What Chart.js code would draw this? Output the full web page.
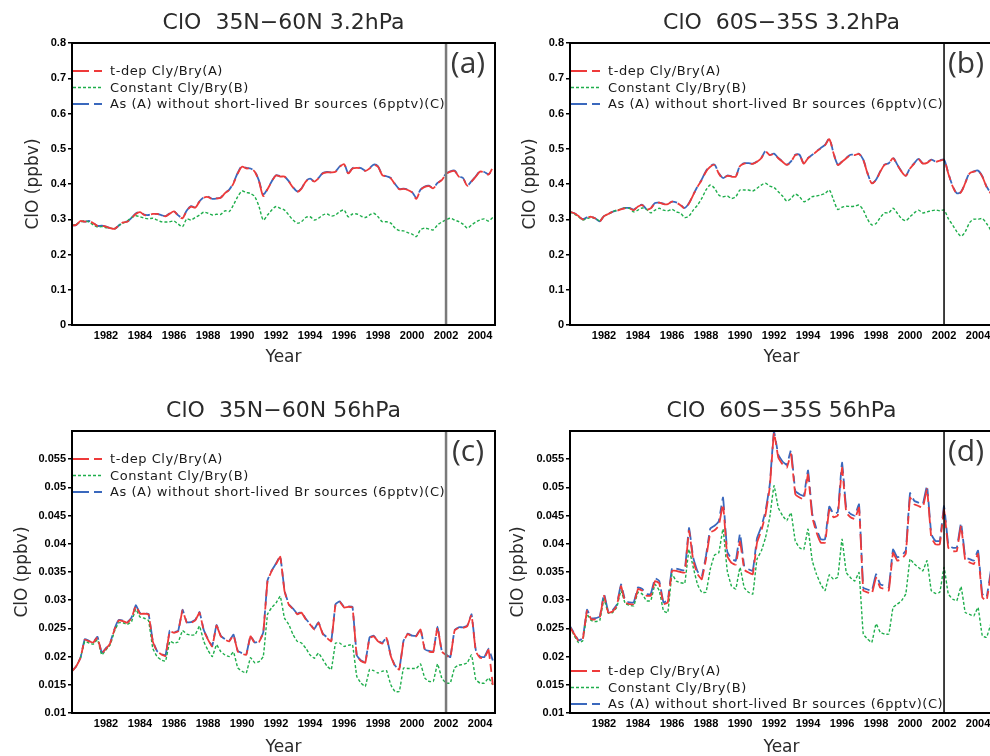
<!DOCTYPE html>
<html>
<head>
<meta charset="utf-8">
<script src="https://cdn.jsdelivr.net/npm/chart.js@4.4.0/dist/chart.umd.min.js"></script>
<style>
html, body { margin: 0; padding: 0; background: #fff; width: 990px; height: 756px; overflow: hidden; position: relative; }
.panel { position: absolute; }
</style>
</head>
<body>
<canvas class="panel" id="pa" width="497" height="378" style="left:0;top:0"></canvas>
<canvas class="panel" id="pb" width="500" height="378" style="left:495px;top:0"></canvas>
<canvas class="panel" id="pc" width="497" height="390" style="left:0;top:378px"></canvas>
<canvas class="panel" id="pd" width="500" height="390" style="left:495px;top:378px"></canvas>
<script>
// quarterly time axis, 1980.0 .. 2004.75
const qYears = Array.from({length: 100}, (_, i) => 1980 + i / 4);
const xTickYears = [1982, 1984, 1986, 1988, 1990, 1992, 1994, 1996, 1998, 2000, 2002, 2004];
const yTicksUpper = [0, 0.1, 0.2, 0.3, 0.4, 0.5, 0.6, 0.7, 0.8];
const yLabelsUpper = ['0', '0.1', '0.2', '0.3', '0.4', '0.5', '0.6', '0.7', '0.8'];
const yTicksLower = [0.01, 0.015, 0.02, 0.025, 0.03, 0.035, 0.04, 0.045, 0.05, 0.055];
const yLabelsLower = ['0.01', '0.015', '0.02', '0.025', '0.03', '0.035', '0.04', '0.045', '0.05', '0.055'];
const seriesNames = ['t-dep Cly/Bry(A)', 'Constant Cly/Bry(B)', 'As (A) without short-lived Br sources (6pptv)(C)'];
const markYear = 2002;

// (a) ClO 35N-60N 3.2hPa
const a_A = [
  0.282, 0.284, 0.295, 0.293,  0.295, 0.289, 0.281, 0.282,  0.279, 0.275, 0.273, 0.282,
  0.291, 0.293, 0.303, 0.315,  0.320, 0.312, 0.312, 0.315,  0.315, 0.312, 0.308, 0.316,
  0.322, 0.310, 0.303, 0.324,  0.336, 0.333, 0.350, 0.361,  0.363, 0.357, 0.359, 0.361,
  0.374, 0.383, 0.402, 0.430,  0.449, 0.444, 0.444, 0.435,  0.407, 0.366, 0.385, 0.407,
  0.424, 0.421, 0.421, 0.407,  0.390, 0.378, 0.387, 0.407,  0.414, 0.407, 0.416, 0.430,
  0.433, 0.433, 0.435, 0.449,  0.456, 0.430, 0.444, 0.446,  0.444, 0.437, 0.444, 0.454,
  0.449, 0.425, 0.421, 0.416,  0.399, 0.385, 0.386, 0.383,  0.376, 0.358, 0.383, 0.392,
  0.394, 0.388, 0.402, 0.411,  0.428, 0.435, 0.437, 0.421,  0.416, 0.395, 0.407, 0.421,
  0.435, 0.433, 0.427, 0.447
];
const a_B = [
  0.282, 0.286, 0.292, 0.295,  0.292, 0.284, 0.278, 0.279,  0.276, 0.275, 0.273, 0.282,
  0.289, 0.295, 0.305, 0.310,  0.307, 0.303, 0.301, 0.303,  0.298, 0.293, 0.292, 0.293,
  0.295, 0.286, 0.279, 0.301,  0.298, 0.305, 0.312, 0.320,  0.317, 0.312, 0.314, 0.314,
  0.324, 0.322, 0.341, 0.364,  0.380, 0.376, 0.373, 0.364,  0.336, 0.298, 0.312, 0.326,
  0.336, 0.331, 0.326, 0.312,  0.298, 0.289, 0.293, 0.305,  0.307, 0.298, 0.303, 0.312,
  0.315, 0.309, 0.312, 0.322,  0.326, 0.307, 0.315, 0.315,  0.309, 0.305, 0.312, 0.317,
  0.307, 0.293, 0.293, 0.289,  0.275, 0.268, 0.267, 0.262,  0.258, 0.251, 0.270, 0.275,
  0.272, 0.270, 0.284, 0.292,  0.298, 0.303, 0.298, 0.293,  0.286, 0.275, 0.284, 0.292,
  0.298, 0.301, 0.295, 0.305
];
const a_C = [
  0.282, 0.284, 0.295, 0.293,  0.295, 0.289, 0.281, 0.282,  0.279, 0.275, 0.273, 0.282,
  0.291, 0.294, 0.304, 0.316,  0.321, 0.313, 0.312, 0.315,  0.315, 0.312, 0.309, 0.317,
  0.322, 0.311, 0.304, 0.325,  0.337, 0.334, 0.351, 0.362,  0.364, 0.358, 0.359, 0.362,
  0.375, 0.384, 0.404, 0.432,  0.451, 0.446, 0.444, 0.436,  0.409, 0.371, 0.386, 0.408,
  0.425, 0.422, 0.421, 0.408,  0.391, 0.379, 0.388, 0.408,  0.415, 0.408, 0.417, 0.431,
  0.434, 0.433, 0.436, 0.450,  0.457, 0.431, 0.445, 0.447,  0.445, 0.438, 0.445, 0.455,
  0.450, 0.426, 0.422, 0.417,  0.400, 0.386, 0.387, 0.384,  0.377, 0.362, 0.384, 0.393,
  0.395, 0.389, 0.403, 0.412,  0.429, 0.436, 0.438, 0.422,  0.417, 0.396, 0.408, 0.422,
  0.436, 0.434, 0.428, 0.439
];

// (b) ClO 60S-35S 3.2hPa
const b_A = [
  0.321, 0.317, 0.309, 0.300,  0.305, 0.307, 0.302, 0.294,  0.309, 0.315, 0.321, 0.324,
  0.328, 0.331, 0.331, 0.326,  0.336, 0.340, 0.328, 0.331,  0.345, 0.347, 0.343, 0.343,
  0.350, 0.347, 0.340, 0.331,  0.345, 0.369, 0.392, 0.411,  0.435, 0.449, 0.454, 0.430,
  0.416, 0.423, 0.421, 0.421,  0.451, 0.458, 0.458, 0.457,  0.463, 0.473, 0.492, 0.482,
  0.485, 0.473, 0.463, 0.454,  0.463, 0.482, 0.482, 0.458,  0.473, 0.482, 0.492, 0.501,
  0.510, 0.527, 0.487, 0.454,  0.463, 0.473, 0.482, 0.482,  0.485, 0.468, 0.430, 0.402,
  0.411, 0.435, 0.454, 0.458,  0.473, 0.454, 0.435, 0.423,  0.444, 0.458, 0.470, 0.458,
  0.460, 0.468, 0.463, 0.466,  0.468, 0.430, 0.394, 0.373,  0.377, 0.403, 0.430, 0.435,
  0.437, 0.421, 0.392, 0.373
];
const b_B = [
  0.321, 0.315, 0.307, 0.298,  0.302, 0.305, 0.302, 0.296,  0.309, 0.315, 0.321, 0.326,
  0.329, 0.332, 0.331, 0.321,  0.326, 0.332, 0.328, 0.318,  0.326, 0.331, 0.326, 0.324,
  0.328, 0.321, 0.317, 0.305,  0.309, 0.326, 0.340, 0.359,  0.383, 0.397, 0.388, 0.369,
  0.364, 0.366, 0.359, 0.364,  0.383, 0.383, 0.383, 0.380,  0.388, 0.397, 0.402, 0.394,
  0.390, 0.378, 0.366, 0.352,  0.359, 0.371, 0.364, 0.350,  0.355, 0.364, 0.366, 0.369,
  0.373, 0.383, 0.355, 0.328,  0.334, 0.337, 0.336, 0.337,  0.340, 0.326, 0.300, 0.284,
  0.288, 0.305, 0.318, 0.318,  0.331, 0.317, 0.302, 0.296,  0.307, 0.318, 0.326, 0.318,
  0.321, 0.324, 0.326, 0.324,  0.326, 0.302, 0.284, 0.265,  0.252, 0.265, 0.290, 0.300,
  0.300, 0.302, 0.288, 0.269
];
const b_C = [
  0.321, 0.317, 0.309, 0.300,  0.305, 0.307, 0.302, 0.294,  0.309, 0.315, 0.321, 0.325,
  0.329, 0.332, 0.332, 0.327,  0.337, 0.341, 0.329, 0.332,  0.346, 0.347, 0.344, 0.344,
  0.350, 0.348, 0.341, 0.332,  0.346, 0.370, 0.393, 0.413,  0.437, 0.451, 0.455, 0.431,
  0.417, 0.424, 0.422, 0.422,  0.452, 0.459, 0.459, 0.458,  0.464, 0.474, 0.493, 0.483,
  0.486, 0.474, 0.464, 0.455,  0.464, 0.483, 0.483, 0.459,  0.474, 0.483, 0.493, 0.502,
  0.511, 0.528, 0.488, 0.455,  0.464, 0.474, 0.483, 0.483,  0.486, 0.469, 0.431, 0.403,
  0.412, 0.436, 0.455, 0.459,  0.474, 0.455, 0.436, 0.424,  0.445, 0.459, 0.471, 0.459,
  0.461, 0.469, 0.464, 0.467,  0.469, 0.431, 0.395, 0.374,  0.378, 0.404, 0.431, 0.436,
  0.438, 0.422, 0.393, 0.374
];

// (c) ClO 35N-60N 56hPa
const c_A = [
  0.0174, 0.0183, 0.0198, 0.0230,  0.0227, 0.0225, 0.0234, 0.0206,  0.0214, 0.0224, 0.0248, 0.0264,
  0.0263, 0.0260, 0.0268, 0.0290,  0.0276, 0.0276, 0.0275, 0.0227,  0.0209, 0.0204, 0.0201, 0.0245,
  0.0242, 0.0245, 0.0282, 0.0260,  0.0260, 0.0264, 0.0278, 0.0246,  0.0230, 0.0218, 0.0255, 0.0236,
  0.0230, 0.0227, 0.0238, 0.0209,  0.0205, 0.0203, 0.0236, 0.0224,  0.0226, 0.0242, 0.0334, 0.0352,
  0.0364, 0.0377, 0.0316, 0.0292,  0.0284, 0.0275, 0.0278, 0.0266,  0.0257, 0.0248, 0.0260, 0.0240,
  0.0233, 0.0227, 0.0292, 0.0297,  0.0287, 0.0288, 0.0287, 0.0201,  0.0192, 0.0189, 0.0233, 0.0236,
  0.0227, 0.0223, 0.0233, 0.0201,  0.0183, 0.0177, 0.0227, 0.0240,  0.0236, 0.0236, 0.0248, 0.0212,
  0.0209, 0.0208, 0.0252, 0.0209,  0.0203, 0.0198, 0.0246, 0.0251,  0.0251, 0.0254, 0.0274, 0.0209,
  0.0198, 0.0197, 0.0212, 0.0150
];
const c_B = [
  0.0174, 0.0183, 0.0198, 0.0227,  0.0224, 0.0222, 0.0230, 0.0203,  0.0212, 0.0221, 0.0245, 0.0260,
  0.0260, 0.0257, 0.0262, 0.0284,  0.0270, 0.0268, 0.0264, 0.0215,  0.0200, 0.0194, 0.0192, 0.0227,
  0.0224, 0.0226, 0.0246, 0.0240,  0.0238, 0.0239, 0.0254, 0.0227,  0.0211, 0.0200, 0.0221, 0.0209,
  0.0203, 0.0200, 0.0208, 0.0180,  0.0174, 0.0171, 0.0198, 0.0189,  0.0191, 0.0200, 0.0275, 0.0287,
  0.0295, 0.0307, 0.0268, 0.0257,  0.0239, 0.0227, 0.0224, 0.0215,  0.0203, 0.0197, 0.0206, 0.0195,
  0.0183, 0.0177, 0.0224, 0.0224,  0.0218, 0.0220, 0.0221, 0.0165,  0.0153, 0.0147, 0.0177, 0.0175,
  0.0171, 0.0174, 0.0175, 0.0150,  0.0138, 0.0138, 0.0180, 0.0179,  0.0179, 0.0179, 0.0187, 0.0162,
  0.0156, 0.0156, 0.0187, 0.0162,  0.0153, 0.0153, 0.0180, 0.0185,  0.0186, 0.0189, 0.0203, 0.0159,
  0.0153, 0.0153, 0.0162, 0.0150
];
const c_C = [
  0.0174, 0.0183, 0.0198, 0.0231,  0.0228, 0.0226, 0.0235, 0.0207,  0.0215, 0.0225, 0.0249, 0.0265,
  0.0264, 0.0261, 0.0269, 0.0291,  0.0277, 0.0277, 0.0276, 0.0228,  0.0210, 0.0205, 0.0202, 0.0246,
  0.0243, 0.0246, 0.0283, 0.0261,  0.0261, 0.0265, 0.0279, 0.0247,  0.0231, 0.0219, 0.0256, 0.0237,
  0.0231, 0.0228, 0.0239, 0.0210,  0.0206, 0.0204, 0.0237, 0.0225,  0.0227, 0.0243, 0.0335, 0.0353,
  0.0365, 0.0378, 0.0317, 0.0293,  0.0285, 0.0276, 0.0279, 0.0267,  0.0258, 0.0249, 0.0261, 0.0241,
  0.0234, 0.0228, 0.0293, 0.0298,  0.0288, 0.0289, 0.0288, 0.0202,  0.0193, 0.0190, 0.0234, 0.0237,
  0.0228, 0.0224, 0.0234, 0.0202,  0.0184, 0.0178, 0.0228, 0.0241,  0.0237, 0.0237, 0.0249, 0.0213,
  0.0210, 0.0209, 0.0253, 0.0210,  0.0204, 0.0199, 0.0247, 0.0252,  0.0252, 0.0255, 0.0275, 0.0212,
  0.0200, 0.0199, 0.0214, 0.0193
];

// (d) ClO 60S-35S 56hPa
const d_A = [
  0.0252, 0.0240, 0.0228, 0.0231,  0.0281, 0.0266, 0.0266, 0.0269,  0.0308, 0.0278, 0.0280, 0.0290,
  0.0325, 0.0296, 0.0293, 0.0293,  0.0320, 0.0317, 0.0308, 0.0308,  0.0334, 0.0330, 0.0293, 0.0296,
  0.0352, 0.0352, 0.0350, 0.0349,  0.0423, 0.0370, 0.0346, 0.0337,  0.0373, 0.0420, 0.0424, 0.0432,
  0.0470, 0.0378, 0.0366, 0.0363,  0.0404, 0.0354, 0.0349, 0.0346,  0.0402, 0.0423, 0.0452, 0.0500,
  0.0597, 0.0553, 0.0541, 0.0535,  0.0559, 0.0488, 0.0482, 0.0479,  0.0523, 0.0447, 0.0420, 0.0402,
  0.0402, 0.0460, 0.0447, 0.0450,  0.0535, 0.0455, 0.0447, 0.0444,  0.0464, 0.0317, 0.0314, 0.0311,
  0.0340, 0.0322, 0.0320, 0.0317,  0.0384, 0.0370, 0.0373, 0.0382,  0.0482, 0.0470, 0.0467, 0.0464,
  0.0497, 0.0411, 0.0399, 0.0399,  0.0461, 0.0393, 0.0387, 0.0387,  0.0432, 0.0370, 0.0367, 0.0364,
  0.0382, 0.0305, 0.0299, 0.0346
];
const d_B = [
  0.0252, 0.0237, 0.0225, 0.0228,  0.0275, 0.0264, 0.0262, 0.0264,  0.0302, 0.0277, 0.0278, 0.0287,
  0.0317, 0.0294, 0.0291, 0.0290,  0.0314, 0.0311, 0.0299, 0.0299,  0.0328, 0.0317, 0.0281, 0.0278,
  0.0346, 0.0334, 0.0331, 0.0330,  0.0390, 0.0358, 0.0328, 0.0314,  0.0314, 0.0355, 0.0380, 0.0384,
  0.0426, 0.0352, 0.0325, 0.0320,  0.0358, 0.0322, 0.0314, 0.0311,  0.0373, 0.0387, 0.0411, 0.0447,
  0.0503, 0.0464, 0.0450, 0.0441,  0.0455, 0.0405, 0.0393, 0.0390,  0.0426, 0.0370, 0.0346, 0.0328,
  0.0317, 0.0345, 0.0337, 0.0341,  0.0408, 0.0349, 0.0340, 0.0334,  0.0349, 0.0240, 0.0231, 0.0225,
  0.0258, 0.0243, 0.0240, 0.0240,  0.0287, 0.0293, 0.0299, 0.0311,  0.0373, 0.0364, 0.0358, 0.0352,
  0.0370, 0.0317, 0.0312, 0.0314,  0.0358, 0.0311, 0.0302, 0.0299,  0.0324, 0.0278, 0.0275, 0.0272,
  0.0287, 0.0237, 0.0234, 0.0258
];
const d_C = [
  0.0254, 0.0241, 0.0229, 0.0232,  0.0283, 0.0268, 0.0268, 0.0271,  0.0311, 0.0280, 0.0282, 0.0292,
  0.0328, 0.0299, 0.0296, 0.0296,  0.0323, 0.0320, 0.0311, 0.0311,  0.0339, 0.0334, 0.0296, 0.0300,
  0.0357, 0.0356, 0.0354, 0.0353,  0.0428, 0.0375, 0.0351, 0.0342,  0.0379, 0.0427, 0.0432, 0.0440,
  0.0482, 0.0386, 0.0373, 0.0370,  0.0418, 0.0360, 0.0355, 0.0352,  0.0410, 0.0430, 0.0458, 0.0505,
  0.0600, 0.0558, 0.0546, 0.0540,  0.0566, 0.0494, 0.0488, 0.0485,  0.0530, 0.0453, 0.0426, 0.0408,
  0.0408, 0.0466, 0.0453, 0.0456,  0.0544, 0.0462, 0.0453, 0.0450,  0.0470, 0.0322, 0.0319, 0.0316,
  0.0346, 0.0328, 0.0326, 0.0323,  0.0390, 0.0376, 0.0379, 0.0388,  0.0490, 0.0476, 0.0473, 0.0470,
  0.0503, 0.0417, 0.0405, 0.0405,  0.0467, 0.0399, 0.0393, 0.0393,  0.0437, 0.0376, 0.0373, 0.0370,
  0.0388, 0.0311, 0.0305, 0.0352
];

const RED = '#ee3a3a';
const GREEN = '#1fae4c';
const BLUE = '#3a68bd';

const decorations = {
  id: 'decorations',
  afterDatasetsDraw(chart, args, o) {
    const {ctx, chartArea: ca, scales: {x}} = chart;
    ctx.save();
    // 2002 marker
    const mx = x.getPixelForValue(markYear);
    ctx.strokeStyle = o.markColor;
    ctx.lineWidth = o.markWidth;
    ctx.beginPath();
    ctx.moveTo(mx, ca.top);
    ctx.lineTo(mx, ca.bottom);
    ctx.stroke();
    // frame
    ctx.strokeStyle = '#000';
    ctx.lineWidth = 2;
    ctx.strokeRect(ca.left, ca.top, ca.right - ca.left, ca.bottom - ca.top);
    // title
    ctx.fillStyle = '#2a2a2a';
    ctx.font = '22px "DejaVu Sans"';
    ctx.textAlign = 'center';
    ctx.textBaseline = 'middle';
    ctx.fillText(o.title, (ca.left + ca.right) / 2, ca.top - 20);
    // panel letter
    ctx.fillStyle = '#383838';
    ctx.font = '500 30px "Open Sans"';
    ctx.fillText(o.letter, ca.right - 27, ca.top + 21);
    // legend
    ctx.font = '13px "DejaVu Sans"';
    ctx.textAlign = 'left';
    ctx.letterSpacing = '0.55px';
    const y0 = o.legendAtBottom ? ca.bottom - 42 : ca.top + 28;
    chart.data.datasets.forEach((ds, i) => {
      const ly = y0 + i * 16.5;
      ctx.strokeStyle = ds.borderColor;
      ctx.lineWidth = ds.borderWidth;
      ctx.setLineDash(ds.borderDash || []);
      ctx.beginPath();
      ctx.moveTo(ca.left + 1, ly);
      ctx.lineTo(ca.left + 31, ly);
      ctx.stroke();
      ctx.setLineDash([]);
      ctx.fillStyle = '#1a1a1a';
      ctx.fillText(ds.label, ca.left + 38, ly + 1);
    });
    ctx.restore();
  }
};

function makePanel(id, p) {
  const pts = arr => qYears.map((t, i) => ({x: t, y: arr[i]}));
  const tickFont = {family: '"Liberation Sans"', size: 11, weight: 'bold'};
  const titleFont = {family: '"DejaVu Sans"', size: 17};
  return new Chart(document.getElementById(id), {
    type: 'line',
    data: {
      datasets: [
        {label: seriesNames[0], data: pts(p.A), borderColor: RED, borderWidth: 1.8, borderDash: [16, 5, 8, 5], pointRadius: 0, tension: p.tension},
        {label: seriesNames[1], data: pts(p.B), borderColor: GREEN, borderWidth: 1.4, borderDash: [3, 2], pointRadius: 0, tension: p.tension},
        {label: seriesNames[2], data: pts(p.C), borderColor: BLUE, borderWidth: 1.8, borderDash: [16, 5, 8, 5], borderDashOffset: 9, pointRadius: 0, tension: p.tension}
      ]
    },
    options: {
      responsive: false,
      animation: false,
      devicePixelRatio: 1,
      layout: {padding: {left: 0, right: 2, top: p.top, bottom: 0}},
      plugins: {
        legend: {display: false},
        tooltip: {enabled: false},
        decorations: {title: p.title, letter: p.letter, markColor: p.markColor, markWidth: p.markWidth, legendAtBottom: p.legendAtBottom}
      },
      scales: {
        x: {
          type: 'linear',
          min: 1980,
          max: 2004.88,
          afterBuildTicks: s => { s.ticks = xTickYears.map(v => ({value: v})); },
          afterFit: s => { s.height = p.xHeight; },
          grid: {display: false, drawTicks: false},
          border: {display: false},
          ticks: {font: tickFont, color: '#000', padding: 4, autoSkip: false, maxRotation: 0, callback: v => String(v)},
          title: {display: true, text: 'Year', font: titleFont, color: '#2a2a2a', padding: {top: 0, bottom: p.yearPad}}
        },
        y: {
          min: p.yMin,
          max: p.yMax,
          afterBuildTicks: s => { s.ticks = p.yTicks.map(v => ({value: v})); },
          afterFit: s => { s.width = p.yWidth; },
          grid: {drawOnChartArea: false, drawTicks: true, tickLength: 4, color: '#000', lineWidth: 1.5},
          border: {display: false},
          ticks: {font: tickFont, color: '#000', padding: 2, callback: (v, i) => p.yLabels[i]},
          title: {display: true, text: 'ClO (ppbv)', font: titleFont, color: '#2a2a2a', padding: {top: p.yTitlePad, bottom: 0}}
        }
      }
    },
    plugins: [decorations]
  });
}

const upper = {yMin: 0, yMax: 0.8, yTicks: yTicksUpper, yLabels: yLabelsUpper, tension: 0.3, top: 43, xHeight: 53, yearPad: 10};
const lower = {yMin: 0.01, yMax: 0.06, yTicks: yTicksLower, yLabels: yLabelsLower, tension: 0.1, top: 53, xHeight: 55, yearPad: 10};

makePanel('pa', Object.assign({}, upper, {A: a_A, B: a_B, C: a_C, title: 'ClO  35N−60N 3.2hPa', letter: '(a)', markColor: '#7a7a7a', markWidth: 2.5, yWidth: 72, yTitlePad: 23, legendAtBottom: false}));
makePanel('pb', Object.assign({}, upper, {A: b_A, B: b_B, C: b_C, title: 'ClO  60S−35S 3.2hPa', letter: '(b)', markColor: '#000', markWidth: 1.5, yWidth: 75, yTitlePad: 25, legendAtBottom: false}));
makePanel('pc', Object.assign({}, lower, {A: c_A, B: c_B, C: c_C, title: 'ClO  35N−60N 56hPa', letter: '(c)', markColor: '#7a7a7a', markWidth: 2.5, yWidth: 72, yTitlePad: 12, legendAtBottom: false}));
makePanel('pd', Object.assign({}, lower, {A: d_A, B: d_B, C: d_C, title: 'ClO  60S−35S 56hPa', letter: '(d)', markColor: '#000', markWidth: 1.5, yWidth: 75, yTitlePad: 13, legendAtBottom: true}));
</script>
</body>
</html>
